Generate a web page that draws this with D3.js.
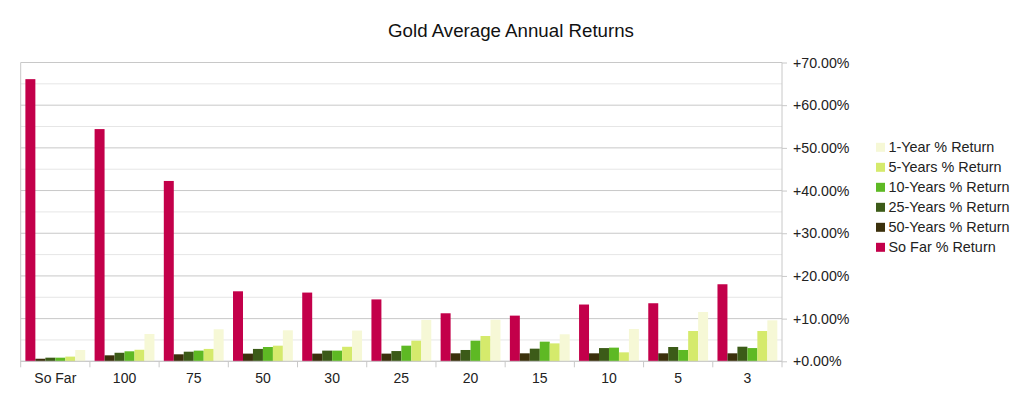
<!DOCTYPE html>
<html><head><meta charset="utf-8">
<script src="https://cdn.jsdelivr.net/npm/d3@7"></script>
<style>body{margin:0;background:#fff;}svg{display:block;font-family:"Liberation Sans",Arial,sans-serif;}</style>
</head><body><svg id="c" width="1024" height="396"></svg>
<script>
const categories = ["So Far","100","75","50","30","25","20","15","10","5","3"];
const seriesNames = ["So Far % Return","50-Years % Return","25-Years % Return","10-Years % Return","5-Years % Return","1-Year % Return"];
const seriesColors = ["#c3004a","#3b300c","#3c5b18","#5eb924","#d5ea6c","#f6f8d6"];
const soFar   = [66.1,54.4,42.25,16.4,16.1,14.5,11.25,10.7,13.3,13.6,18.05];
const years50 = [0.6,1.4,1.64,1.8,1.8,1.8,1.87,1.87,1.87,1.87,1.87];
const years25 = [0.85,2.0,2.25,2.9,2.5,2.4,2.65,2.96,3.1,3.35,3.42];
const years10 = [0.85,2.34,2.5,3.35,2.5,3.66,4.83,4.6,3.2,2.65,3.1];
const years5  = [1.1,2.7,2.9,3.66,3.4,4.83,5.93,4.2,2.1,7.1,7.1];
const year1   = [2.65,6.4,7.5,7.26,7.2,9.7,9.75,6.33,7.57,11.55,9.6];
const yTicks = [0,10,20,30,40,50,60,70];
const series = [soFar,years50,years25,years10,years5,year1];

const svg = d3.select("#c");
const L=20.7, R=782, T=62.5, B=361.3;
const x = d3.scaleBand().domain(categories).range([L,R]).paddingInner(0).paddingOuter(0);
const xi = d3.scaleBand().domain(d3.range(series.length)).range([0,x.bandwidth()]).paddingOuter(0.47).paddingInner(0);
const y = d3.scaleLinear().domain([0,70]).range([B,T]);

// minor gridlines
svg.append("g").selectAll("line").data(d3.range(5,70,10)).join("line")
  .attr("x1",L).attr("x2",R).attr("y1",d=>y(d)).attr("y2",d=>y(d))
  .attr("stroke","#e6e6e6").attr("stroke-width",1);
// major gridlines
svg.append("g").selectAll("line").data(yTicks).join("line")
  .attr("x1",L).attr("x2",R).attr("y1",d=>y(d)).attr("y2",d=>y(d))
  .attr("stroke","#c8c8c8").attr("stroke-width",1);

// bars
categories.forEach((c,ci)=>{
  series.forEach((s,si)=>{
    svg.append("rect")
      .attr("x",x(c)+xi(si)).attr("width",xi.bandwidth())
      .attr("y",y(s[ci])).attr("height",y(0)-y(s[ci]))
      .attr("fill",seriesColors[si]);
  });
});

// left frame line
svg.append("line").attr("x1",L).attr("x2",L).attr("y1",T).attr("y2",B+6).attr("stroke","#c8c8c8");

// right axis
const ya = d3.axisRight(y).tickValues(yTicks).tickSize(5).tickPadding(6)
  .tickFormat(d=>"+"+d3.format(".2f")(d)+"%");
const gy = svg.append("g").attr("transform",`translate(${R},0)`).call(ya);
gy.select(".domain").attr("stroke","#c8c8c8").attr("d",`M0,${T}V${B}`);
gy.selectAll(".tick line").attr("stroke","#c8c8c8");
gy.selectAll("text").attr("font-size",14.2).attr("fill","#222").attr("font-family","Liberation Sans, Arial, sans-serif");

// bottom axis
const xa = d3.axisBottom(x).tickSize(0).tickPadding(12);
const gx = svg.append("g").attr("transform",`translate(0,${B})`).call(xa);
gx.select(".domain").attr("stroke","#c8c8c8").attr("d",`M${L},0H${R}`);
gx.selectAll("text").attr("font-size",14).attr("fill","#222").attr("font-family","Liberation Sans, Arial, sans-serif");
// category separator ticks
svg.append("g").selectAll("line").data(categories.slice(1).concat(["__end"])).join("line")
  .attr("x1",d=>d==="__end"?R:x(d)).attr("x2",d=>d==="__end"?R:x(d))
  .attr("y1",B).attr("y2",B+6).attr("stroke","#c8c8c8");

// title
svg.append("text").attr("x",511).attr("y",37).attr("text-anchor","middle")
  .attr("font-size",18.7).attr("fill","#111").text("Gold Average Annual Returns");

// legend (reversed order)
const legendOrder = d3.range(series.length).reverse();
const lg = svg.append("g");
legendOrder.forEach((si,i)=>{
  const cy = 147.3 + i*20;
  lg.append("rect").attr("x",876).attr("y",cy-4.5).attr("width",9).attr("height",9).attr("fill",seriesColors[si]);
  lg.append("text").attr("x",888.5).attr("y",cy).attr("dy","0.35em").attr("font-size",14.4).attr("fill","#222").text(seriesNames[si]);
});
</script></body></html>
